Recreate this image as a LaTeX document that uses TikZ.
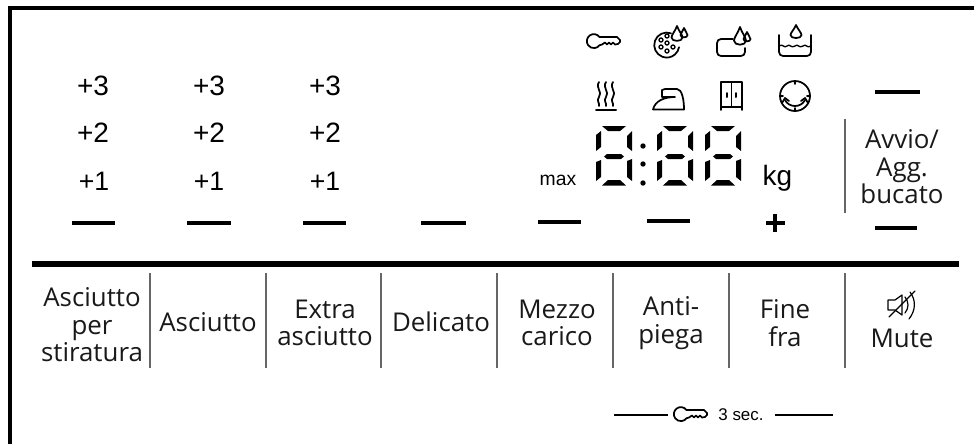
\documentclass[tikz,border=0pt]{standalone}
\usepackage{fontspec}
\setmainfont{Liberation Sans}
\newfontfamily\lab{Open Sans}
\tikzset{
 x=0.75pt,y=-0.75pt,
 lbl/.style={font=\fontsize{19.4}{20.6}\selectfont\lab,align=center,inner sep=0,text=black!90},
 lvl/.style={font=\fontsize{21}{22}\selectfont,inner sep=0},
 bar/.style={line width=3pt},
 sep/.style={line width=0.9pt,draw=black!60},
 ico/.style={line width=1.3pt,line cap=round,line join=round},
}
\newcommand{\segs}[1]{%
 \begin{scope}[shift={(#1,126)}]
 \fill (6,0)--(30,0)--(24,5)--(12,5)--cycle;
 \fill (6,59.5)--(30,59.5)--(24,54)--(12,54)--cycle;
 \fill (11,28)--(25,28)--(28,30.5)--(25,33)--(11,33)--(8,30.5)--cycle;
 \fill (0,9)--(5,5)--(5,21)--(0,25)--cycle;
 \fill (31,10)--(36,5)--(36,25)--(31,21)--cycle;
 \fill (0,36)--(5,34)--(5,51)--(0,55)--cycle;
 \fill (31,35)--(36,33)--(36,55)--(31,51)--cycle;
 \end{scope}}
\newcommand{\keyicon}[2]{%
 \begin{scope}[shift={(#1,#2)},ico]
 \draw (-4.5,-4) arc (-36:-324:7) -- (-2,3.5) -- (1,1.5) -- (3,3.5) -- (5,1.5) -- (7,3.5) -- (9,1.5) -- (11,3.5)-- (14,3)--(16,1)--(16,-1)--(13,-4)--cycle;
 \end{scope}}
\newcommand{\dropicon}[4]{% x, top, bottom, half width
 \draw (#1,#2) .. controls (#1+0.3*#4,#2+0.3*#3-0.3*#2) and (#1+#4,#2+0.55*#3-0.55*#2) .. (#1+#4,#2+0.72*#3-0.72*#2)
 .. controls (#1+#4,#3) and (#1-#4,#3) .. (#1-#4,#2+0.72*#3-0.72*#2)
 .. controls (#1-#4,#2+0.55*#3-0.55*#2) and (#1-0.3*#4,#2+0.3*#3-0.3*#2) .. cycle;}
\begin{document}
\begin{tikzpicture}
\useasboundingbox (0,0) rectangle (974,444);
\fill[white] (0,0) rectangle (974,444);
\coordinate (fa) at (10,444);
\coordinate (fb) at (10,8);
\coordinate (fc) at (974,8);
\draw[line width=3pt] (fa) -- (fb) -- (fc);
\coordinate (ma) at (32,264);
\coordinate (mb) at (959,264);
\draw[line width=4.5pt] (ma) -- (mb);
% levels
\foreach \x in {93,209,325}{
 \node[lvl] at (\x,86) {+3};
 \node[lvl] at (\x,133) {+2};
}
\foreach \x in {94,209,325}{\node[lvl,font=\fontsize{20}{21}\selectfont] at (\x,181) {+1};}
\foreach \a/\b/\y in {72/115/223,187/231/223,303/346/223,421/466/223,538/581/222,647/690/221,875/917/228,875/920/92}{
 \draw[bar] (\a,\y) -- (\b,\y);
}
\draw[bar] (775,213.5)--(775,232);
\draw[bar] (766,223)--(785,223);
% labels
\node[lbl] at (92,325) {Asciutto\\per\\stiratura};
\node[lbl] at (208,322) {Asciutto};
\node[lbl] at (325,323) {Extra\\asciutto};
\node[lbl] at (441,322) {Delicato};
\node[lbl] at (557,323) {Mezzo\\carico};
\node[lbl] at (671,323) {Anti-\\piega};
\node[lbl] at (785,323) {Fine\\fra};
\node[lbl] at (902,338) {Mute};
\node[lbl] at (902,167) {Avvio/\\Agg.\\bucato};
\node[font=\fontsize{14.5}{15}\selectfont,inner sep=0] at (558,180) {max};
\node[font=\fontsize{21}{22}\selectfont,inner sep=0] at (777.5,178) {kg};
\node[font=\fontsize{12.7}{13}\selectfont,inner sep=0] at (741,415) {3 sec.};
% separators
\foreach \x in {150,266,381,497,613,729,845}{\draw[sep] (\x,273)--(\x,368);}
\draw[sep] (845,119)--(845,213);
% dashes around 3 sec
\coordinate (d1) at (614,415); \coordinate (d2) at (668,415);
\coordinate (d3) at (775,415); \coordinate (d4) at (833,415);
\draw[line width=0.8pt] (d1)--(d2) (d3)--(d4);
\keyicon{691}{414}
\keyicon{604}{41}
% display
\segs{596}\segs{657}\segs{705}
\fill (643,146) circle (2.7) (643,164) circle (2.7) (643,183) circle (2.7);
\begin{scope}[ico]
% drum
\draw (671,33.3) arc (-70:-350:12.5);
\foreach \p in {(667,36),(661,40),(667,43),(661,47),(667,51),(673,47)}{\draw[line width=1pt] \p circle (2);}
\dropicon{677}{26}{42}{5.5}
\dropicon{684}{28}{38}{3.5}
% tank with drops
\draw[rounded corners=3pt] (733,39) -- (717,39) -- (717,56) -- (745,56) -- (745,48);
\dropicon{740}{27}{46}{6}
\dropicon{747}{32}{42}{3.5}
% tub
\draw[rounded corners=3pt] (779,35) -- (779,56) -- (811,56) -- (811,35);
\draw[line width=1pt] (779,46) .. controls (783,43) and (784,49) .. (787,46) .. controls (790,43) and (791,49) .. (795,46) .. controls (798,43) and (799,49) .. (803,46) .. controls (806,43) and (807,49) .. (811,46);
\dropicon{796}{25}{39}{5.5}
% steam
\foreach \x in {599,606,613}{\draw (\x,82) .. controls (\x-4,88) and (\x+4,92) .. (\x,97) .. controls (\x-3,101) and (\x+1,103) .. (\x,106);}
\draw[line width=1.5pt] (596,109.5) -- (616,109.5);
% iron
\draw (653,109.5) .. controls (655,101) and (664,97) .. (675,97) -- (662,97) -- (662,90) -- (665,89) -- (677,89) .. controls (682,89) and (684,100) .. (684,109.5) -- cycle;
% wardrobe
\draw (721,110) -- (721,82) -- (742,82) -- (742,110);
\draw (721,107) -- (742,107) (731.5,82) -- (731.5,107);
\draw[line width=1.5pt] (727,93)--(727,97) (736,93)--(736,97);
% smile
\draw (795,96) circle (15);
\draw (785,100) .. controls (789,108) and (801,108) .. (805,100);
\draw (782,103)--(785,98)--(789,101) (801,101)--(805,98)--(808,103);
\draw (795,81)--(795,84) (795,108)--(795,111) (780,96)--(783,96) (807,96)--(810,96);
% mute
\begin{scope}[line width=.9pt]
\draw (888,300)--(895,300)--(902,295)--(902,315)--(895,310)--(888,310)--cycle;
\draw (889,317)--(915,291);
\draw (905,297) .. controls (909,302) and (909,308) .. (905,313);
\draw (910,292) .. controls (916,300) and (916,310) .. (909,319);
\end{scope}
\end{scope}
\end{tikzpicture}
\end{document}
